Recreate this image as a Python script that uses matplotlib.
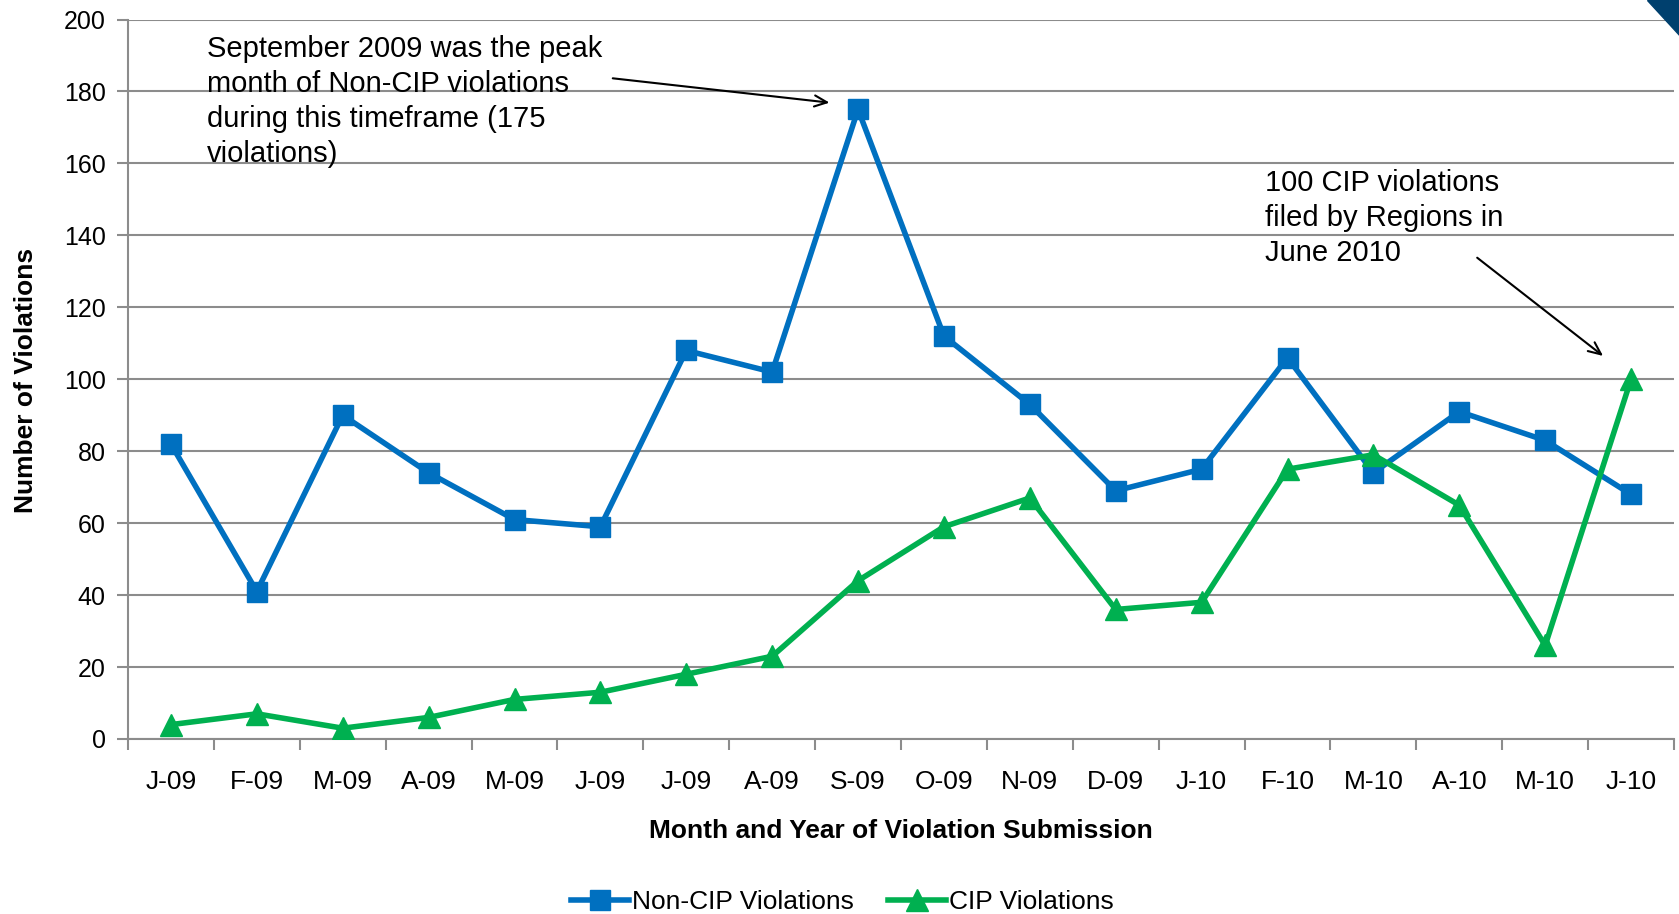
import matplotlib.pyplot as plt
from matplotlib.lines import Line2D
from matplotlib.patches import Polygon

plt.rcParams['font.family'] = ['Liberation Sans', 'DejaVu Sans']

months = ['J-09', 'F-09', 'M-09', 'A-09', 'M-09', 'J-09', 'J-09', 'A-09', 'S-09',
          'O-09', 'N-09', 'D-09', 'J-10', 'F-10', 'M-10', 'A-10', 'M-10', 'J-10']
non_cip = [82, 41, 90, 74, 61, 59, 108, 102, 175, 112, 93, 69, 75, 106, 74, 91, 83, 68]
cip = [4, 7, 3, 6, 11, 13, 18, 23, 44, 59, 67, 36, 38, 75, 79, 65, 26, 100]
y_ticks = list(range(0, 201, 20))

blue = '#0070C0'
green = '#00B050'
grid_grey = '#8C8C8C'

W, H = 1679, 914
fig = plt.figure(figsize=(W / 100, H / 100), dpi=100)
left, right, top, bottom = 128, 1674, 19.5, 739
ax = fig.add_axes([left / W, 1 - bottom / H, (right - left) / W, (bottom - top) / H])

x = list(range(len(months)))
ax.plot(x, non_cip, color=blue, lw=4, marker='s', ms=14, zorder=3)
ax.plot(x, cip, color=green, lw=4, marker='^', ms=16, zorder=3)

ax.set_xlim(-0.5, len(months) - 0.5)
ax.set_ylim(0, 200)
ax.set_yticks(y_ticks)
ax.set_xticks(x)
ax.set_xticklabels(months)
ax.set_xticks([i - 0.5 for i in range(len(months) + 1)], minor=True)
ax.tick_params(axis='x', which='major', length=0, pad=22, labelsize=19)
ax.tick_params(axis='x', which='minor', length=8, width=1.5, color=grid_grey)
ax.tick_params(axis='y', length=8, width=1.5, color=grid_grey, pad=8, labelsize=18)
ax.yaxis.grid(True, color=grid_grey, lw=1.5)
ax.set_axisbelow(True)
for s in ['top', 'right']:
    ax.spines[s].set_visible(False)
for s in ['left', 'bottom']:
    ax.spines[s].set_color(grid_grey)
    ax.spines[s].set_linewidth(1.5)

fig.text(26 / W, 1 - 380 / H, 'Number of Violations', rotation=90, fontsize=19,
         fontweight='bold', ha='center', va='center')
fig.text(901 / W, 1 - 831 / H, 'Month and Year of Violation Submission', fontsize=19,
         fontweight='bold', ha='center', va='center')

# annotations
arrow = dict(arrowstyle='->,head_length=0.9,head_width=0.4', lw=1.5, color='black')
ax.annotate('September 2009 was the peak\nmonth of Non-CIP violations\nduring this timeframe (175\nviolations)',
            xy=(7.7, 176.8), xycoords='data',
            xytext=(207 / W, 1 - 35 / H), textcoords='figure fraction',
            ha='left', va='top', fontsize=21, linespacing=1.32)
ax.annotate('', xy=(7.7, 176.8), xycoords='data',
            xytext=(610 / W, 1 - 78 / H), textcoords='figure fraction', arrowprops=arrow)
ax.annotate('100 CIP violations\nfiled by Regions in\nJune 2010',
            xy=(16.7, 106), xycoords='data',
            xytext=(1265 / W, 1 - 169 / H), textcoords='figure fraction',
            ha='left', va='top', fontsize=21, linespacing=1.32)
ax.annotate('', xy=(16.7, 106), xycoords='data',
            xytext=(1475 / W, 1 - 256 / H), textcoords='figure fraction', arrowprops=arrow)

handles = [Line2D([], [], color=blue, lw=4, marker='s', ms=14),
           Line2D([], [], color=green, lw=4, marker='^', ms=16)]
fig.legend(handles, ['Non-CIP Violations', 'CIP Violations'], loc='center left',
           bbox_to_anchor=(558 / W, 1 - 902 / H), ncol=2, frameon=False, fontsize=19,
           handlelength=2.2, handletextpad=0.1, columnspacing=1.3, borderpad=0)

# corner decoration
fig.patches.append(Polygon([(1647 / W, 1), (1 + 0.001, 1), (1 + 0.001, 1 - 37 / H)],
                           closed=True, transform=fig.transFigure, color='#00406E'))

fig.savefig('out.png', dpi=100)
